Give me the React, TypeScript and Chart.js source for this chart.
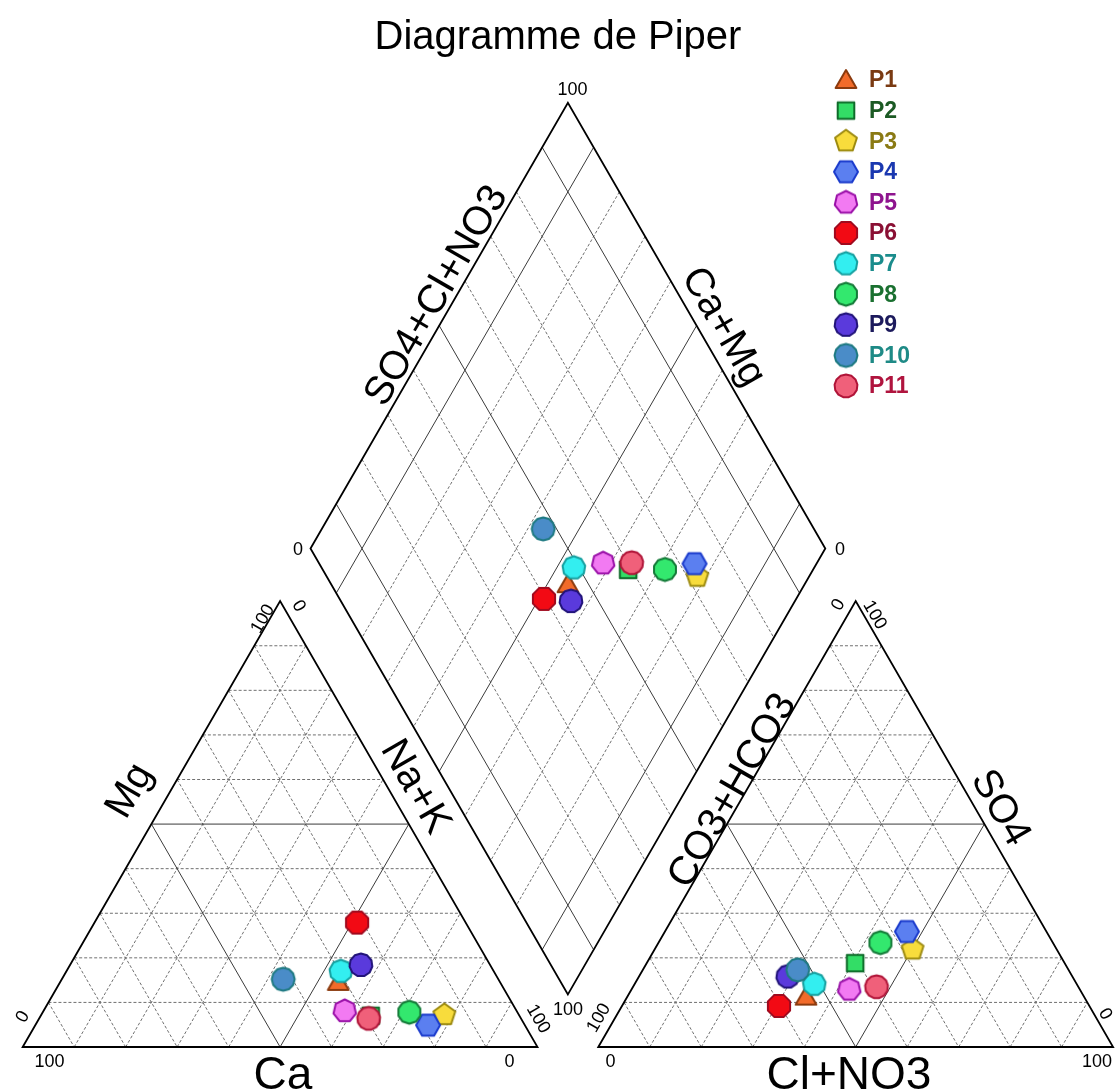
import React, { useEffect, useRef } from 'react';
import { Chart, registerables } from 'chart.js';

Chart.register(...registerables);

// ---------------- DATA ----------------
const sampleNames = ['P1', 'P2', 'P3', 'P4', 'P5', 'P6', 'P7', 'P8', 'P9', 'P10', 'P11'];
// cations (% meq)
const caPct = [31.4, 28.9, 14.5, 18.8, 33.4, 21.1, 29.7, 21.0, 25.1, 41.8, 29.6];
const mgPct = [14.6, 7.0, 7.2, 4.9, 8.1, 27.9, 17.0, 7.8, 18.4, 15.2, 6.4];
const naKPct = [54.0, 64.1, 78.3, 76.3, 58.5, 51.0, 53.3, 71.2, 56.5, 43.0, 64.0];
// anions (% meq)
const hco3Pct = [54.0, 40.7, 28.0, 27.1, 44.8, 60.3, 51.0, 33.5, 55.3, 52.6, 39.2];
const so4Pct = [11.3, 18.8, 21.9, 25.9, 12.9, 9.2, 14.1, 23.4, 15.8, 17.3, 13.5];
const clPct = [34.7, 40.5, 50.1, 47.0, 42.3, 30.5, 34.9, 43.1, 28.9, 30.1, 47.3];
// grid levels
const gridLevels = [10, 20, 30, 40, 50, 60, 70, 80, 90];
const triangleSolidLevels = [50];
const diamondSolidLevels = [10, 50, 90];
const titleText = 'Diagramme de Piper';

// ---------------- STYLES ----------------
const markerSides = [3, 4, 5, 6, 7, 8, 9, 10, 11, 12, 13];
const markerFill = ['#F26B2A', '#33DD66', '#F8DC3C', '#5B7FF0', '#F27AF2', '#F20A14', '#33EEF0', '#33E86E', '#5A3ADC', '#4A8CC8', '#F0607A'];
const markerStroke = ['#8B3A0E', '#0F6B2A', '#9C8A10', '#1A3ACC', '#9A10A8', '#A00A1E', '#16A0A0', '#147A38', '#22147A', '#1E7A82', '#B01438'];
const legendTextColor = ['#7A3A12', '#1C5A24', '#8A7A14', '#1A38B0', '#8E148E', '#8A1034', '#1A8C8C', '#1A7030', '#1C1A5C', '#1E8A86', '#B0143E'];

const FONT = '"Liberation Sans", Arial, Helvetica, sans-serif';
const W = 1117;
const HGT = 1092;

// ---------------- GEOMETRY (layout) ----------------
const S = 514.8;
const TH = (S * Math.sqrt(3)) / 2;
const BASE_Y = 1047;
const LEFT_X0 = 22.7;
const RIGHT_X0 = 598.3;
const DB_X = (LEFT_X0 + S + RIGHT_X0) / 2;
const DB_Y = BASE_Y - ((RIGHT_X0 - LEFT_X0 - S) * Math.sqrt(3)) / 2;

type P = { x: number; y: number };
function leftPt(ca: number, mg: number, nak: number): P {
  const t = ca + mg + nak;
  return { x: LEFT_X0 + ((nak + mg / 2) / t) * S, y: BASE_Y - (mg / t) * TH };
}
function rightPt(hco3: number, so4: number, cl: number): P {
  const t = hco3 + so4 + cl;
  return { x: RIGHT_X0 + ((cl + so4 / 2) / t) * S, y: BASE_Y - (so4 / t) * TH };
}
function diamondPt(nak: number, hco3: number): P {
  const c = 1 - nak / 100;
  const a = 1 - hco3 / 100;
  return { x: DB_X + ((a - c) * S) / 2, y: DB_Y - (a + c) * TH };
}

function makeMarker(sides: number, fill: string, stroke: string): HTMLCanvasElement {
  const size = 28;
  const cv = document.createElement('canvas');
  cv.width = size;
  cv.height = size;
  const ctx = cv.getContext('2d')!;
  const cx = size / 2;
  const cy = size / 2;
  let r = 11.5;
  let rot = -Math.PI / 2;
  if (sides === 3) { r = 12; rot = -Math.PI / 2; }
  if (sides === 4) { r = 8.3 * Math.SQRT2; rot = Math.PI / 4; }
  if (sides === 6) { r = 12; rot = 0; }
  if (sides === 8) { r = 12; rot = Math.PI / 8; }
  ctx.beginPath();
  for (let k = 0; k < sides; k++) {
    const ang = rot + (k * 2 * Math.PI) / sides;
    const px = cx + r * Math.cos(ang);
    const py = cy + (sides === 3 ? 2 : 0) + r * Math.sin(ang);
    if (k === 0) ctx.moveTo(px, py);
    else ctx.lineTo(px, py);
  }
  ctx.closePath();
  ctx.fillStyle = fill;
  ctx.fill();
  ctx.lineWidth = 2;
  ctx.lineJoin = 'round';
  ctx.strokeStyle = stroke;
  ctx.stroke();
  return cv;
}

export default function App() {
  const ref = useRef<HTMLCanvasElement>(null);

  useEffect(() => {
    document.body.style.margin = '0';
    const canvas = ref.current;
    if (!canvas) return;

    const markers = sampleNames.map((_, i) => makeMarker(markerSides[i], markerFill[i], markerStroke[i]));

    const datasets = sampleNames.map((name, i) => ({
      label: name,
      data: [
        leftPt(caPct[i], mgPct[i], naKPct[i]),
        diamondPt(naKPct[i], hco3Pct[i]),
        rightPt(hco3Pct[i], so4Pct[i], clPct[i]),
      ],
      pointStyle: markers[i] as any,
      pointRadius: 10,
      showLine: false,
      order: sampleNames.length - i,
      clip: false as any,
    }));

    const piperPlugin = {
      id: 'piper',
      beforeDatasetsDraw(chart: any) {
        const ctx: CanvasRenderingContext2D = chart.ctx;
        const xs = chart.scales.x;
        const ys = chart.scales.y;
        const px = (p: P) => ({ x: xs.getPixelForValue(p.x), y: ys.getPixelForValue(p.y) });
        const line = (a: P, b: P, solid: boolean) => {
          const A = px(a);
          const B = px(b);
          ctx.save();
          ctx.beginPath();
          ctx.moveTo(A.x, A.y);
          ctx.lineTo(B.x, B.y);
          if (solid) {
            ctx.setLineDash([]);
            ctx.strokeStyle = '#3a3a3a';
            ctx.lineWidth = 1;
          } else {
            ctx.setLineDash([3, 2]);
            ctx.strokeStyle = '#707070';
            ctx.lineWidth = 1;
          }
          ctx.stroke();
          ctx.restore();
        };
        const poly = (pts: P[]) => {
          ctx.save();
          ctx.beginPath();
          pts.forEach((p, k) => {
            const Q = px(p);
            if (k === 0) ctx.moveTo(Q.x, Q.y);
            else ctx.lineTo(Q.x, Q.y);
          });
          ctx.closePath();
          ctx.setLineDash([]);
          ctx.strokeStyle = '#000';
          ctx.lineWidth = 1.8;
          ctx.lineJoin = 'miter';
          ctx.stroke();
          ctx.restore();
        };
        for (const pass of [false, true]) {
          for (const v of gridLevels) {
            const triSolid = triangleSolidLevels.includes(v);
            if (triSolid === pass) {
              line(leftPt(100 - v, v, 0), leftPt(0, v, 100 - v), triSolid);
              line(leftPt(100 - v, 0, v), leftPt(0, 100 - v, v), triSolid);
              line(leftPt(v, 100 - v, 0), leftPt(v, 0, 100 - v), triSolid);
              line(rightPt(100 - v, v, 0), rightPt(0, v, 100 - v), triSolid);
              line(rightPt(100 - v, 0, v), rightPt(0, 100 - v, v), triSolid);
              line(rightPt(v, 100 - v, 0), rightPt(v, 0, 100 - v), triSolid);
            }
            const dSolid = diamondSolidLevels.includes(v);
            if (dSolid === pass) {
              line(diamondPt(0, 100 - v), diamondPt(100, 100 - v), dSolid);
              line(diamondPt(100 - v, 0), diamondPt(100 - v, 100), dSolid);
            }
          }
        }
        poly([leftPt(100, 0, 0), leftPt(0, 100, 0), leftPt(0, 0, 100)]);
        poly([rightPt(100, 0, 0), rightPt(0, 100, 0), rightPt(0, 0, 100)]);
        poly([diamondPt(100, 100), diamondPt(100, 0), diamondPt(0, 0), diamondPt(0, 100)]);
      },
      afterDatasetsDraw(chart: any) {
        const ctx: CanvasRenderingContext2D = chart.ctx;
        const xs = chart.scales.x;
        const ys = chart.scales.y;
        const text = (t: string, x: number, y: number, rot: number, size: number, color = '#000', bold = false, align: CanvasTextAlign = 'center', baseline: CanvasTextBaseline = 'middle') => {
          ctx.save();
          ctx.translate(xs.getPixelForValue(x), ys.getPixelForValue(y));
          ctx.rotate((rot * Math.PI) / 180);
          ctx.font = `${bold ? 'bold ' : ''}${size}px ${FONT}`;
          ctx.fillStyle = color;
          ctx.textAlign = align;
          ctx.textBaseline = baseline;
          ctx.fillText(t, 0, 0);
          ctx.restore();
        };
        text(titleText, 558, 38, 0, 40);
        text('SO4+Cl+NO3', 437, 296, -60, 40);
        text('Ca+Mg', 723, 327, 60, 40);
        text('Mg', 130, 791, -60, 40);
        text('Na+K', 415, 787, 60, 40);
        text('CO3+HCO3', 733, 791, -60, 40);
        text('SO4', 1000, 808, 60, 40);
        text('Ca', 283, 1089, 0, 46, '#000', false, 'center', 'alphabetic');
        text('Cl+NO3', 849, 1089, 0, 46, '#000', false, 'center', 'alphabetic');
        const tk = 18;
        text('100', 572.5, 90, 0, tk);
        text('0', 298, 550, 0, tk);
        text('0', 840, 550, 0, tk);
        text('100', 568, 1010, 0, tk);
        text('100', 49.5, 1062, 0, tk);
        text('0', 509.5, 1062, 0, tk);
        text('0', 23, 1017, -60, tk);
        text('100', 263, 619, -60, tk);
        text('0', 298.5, 606, 60, tk);
        text('100', 538, 1019, 60, tk);
        text('0', 610.5, 1062, 0, tk);
        text('100', 1097, 1062, 0, tk);
        text('100', 599, 1018, -60, tk);
        text('0', 838.5, 605, -60, tk);
        text('100', 874.5, 615, 60, tk);
        text('0', 1105, 1014, 60, tk);
        sampleNames.forEach((name, i) => {
          const ly = 80 + 30.6 * i;
          const m = markers[i];
          const cx = xs.getPixelForValue(846);
          const cy = ys.getPixelForValue(ly);
          ctx.drawImage(m, cx - m.width / 2, cy - m.height / 2);
          text(name, 869, ly + 1, 0, 23, legendTextColor[i], true, 'left');
        });
      },
    };

    const chart = new Chart(canvas, {
      type: 'scatter',
      data: { datasets: datasets as any },
      options: {
        responsive: false,
        animation: false,
        events: [],
        layout: { padding: 0, autoPadding: false },
        plugins: { legend: { display: false }, tooltip: { enabled: false }, title: { display: false } },
        scales: {
          x: { type: 'linear', min: 0, max: W, display: false },
          y: { type: 'linear', min: 0, max: HGT, reverse: true, display: false },
        },
      },
      plugins: [piperPlugin],
    });
    return () => chart.destroy();
  }, []);

  return (
    <div style={{ width: W, height: HGT, background: '#fff' }}>
      <canvas ref={ref} width={W} height={HGT} style={{ display: 'block', width: W, height: HGT }} />
    </div>
  );
}
